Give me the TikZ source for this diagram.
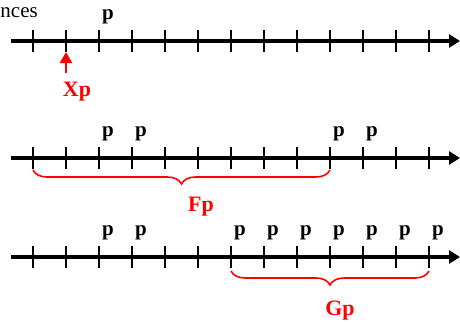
\documentclass[tikz,border=0pt]{standalone}
\usepackage{fontspec}
\setmainfont{Liberation Serif}
\usetikzlibrary{arrows.meta,decorations.pathreplacing}

\begin{document}
\begin{tikzpicture}[x=1pt, y=-1pt,
    axisline/.style={line width=3.2pt, -{Triangle[length=11pt,width=13pt]}},
    ticklin/.style={line width=2pt},
    plabel/.style={font=\fontsize{21}{25}\selectfont\bfseries, inner sep=0pt, anchor=base},
    redlabel/.style={font=\fontsize{22}{26}\selectfont\bfseries, text=red, inner sep=0pt, anchor=base},
    redarrow/.style={red, line width=2.6pt, -{Triangle[length=11pt,width=12pt]}},
    redbrace/.style={red, line width=1.6pt, decorate, decoration={brace, mirror, amplitude=14pt}}]
    \useasboundingbox (0,0) rectangle (460,324);

    % cut-off heading
    \node[font=\fontsize{21}{25}\selectfont, inner sep=0pt, anchor=base east] (head) at (38,17) {nces};

    % three time axes with ticks
    \foreach \r/\y in {1/41, 2/158, 3/257} {
        \coordinate (start\r) at (11,\y);
        \coordinate (end\r) at (460,\y);
        \draw[axisline] (start\r) -- (end\r);
        \foreach \k in {0,...,12} {
            \coordinate (r\r t\k) at ({33+33*\k},\y);
            \draw[ticklin] ({33+33*\k},\y-11) -- ({33+33*\k},\y+11);
        }
    }

    % Row 1
    \node[plabel] (p12) at ([shift={(9pt,22pt)}]r1t2) {p};
    \node[redlabel] (xp) at (77,96) {Xp};
    \coordinate (xpfoot) at (66,73);
    \draw[redarrow] (xpfoot) -- ([yshift=-11pt]r1t1);

    % Row 2
    \foreach \k in {2,3,9,10}
        \node[plabel] (p2\k) at ([shift={(9pt,22pt)}]r2t\k) {p};
    \draw[redbrace] ([yshift=-12pt]r2t0) -- ([yshift=-12pt]r2t9);
    \node[redlabel] (fp) at (201,211) {Fp};

    % Row 3
    \foreach \k in {2,3,6,7,8,9,10,11,12}
        \node[plabel] (p3\k) at ([shift={(9pt,22pt)}]r3t\k) {p};
    \draw[redbrace] ([yshift=-14pt]r3t6) -- ([yshift=-14pt]r3t12);
    \node[redlabel] (gp) at (340,315) {Gp};
\end{tikzpicture}
\end{document}
